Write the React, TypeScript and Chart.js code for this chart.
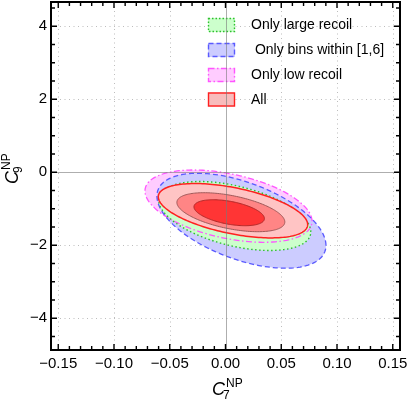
import React, { useEffect, useRef } from 'react';
import { Chart, registerables } from 'chart.js';

Chart.register(...registerables);

// ---- axis data ----
const xTicks = [-0.15, -0.1, -0.05, 0, 0.05, 0.1, 0.15];
const xTickLabels = ['−0.15', '−0.10', '−0.05', '0.00', '0.05', '0.10', '0.15'];
const yTicks = [-4, -2, 0, 2, 4];
const yTickLabels = ['−4', '−2', '0', '2', '4'];
const xRange = [-0.1565, 0.1565];
const yRange = [-4.871, 4.663];
const xMinorStep = 0.01;
const yMinorStep = 0.5;

// ---- legend ----
const legendLabels = ['Only large recoil', ' Only bins within [1,6]', 'Only low recoil', 'All'];

// ---- confidence contours: [centre x, centre y, half-width x, half-height y, correlation] ----
const lowRecoil = [0.0027, -0.93, 0.0749, 0.99, -0.42];
const binsWithin16 = [0.0143, -1.33, 0.0758, 1.3, -0.52];
const largeRecoil = [0.0083, -1.2, 0.0682, 0.945, -0.46];
const allOuter = [0.0067, -1.055, 0.067, 0.745, -0.51];
const allMid = [0.0048, -1.096, 0.0484, 0.534, -0.5];
const allInner = [0.0033, -1.11, 0.0316, 0.356, -0.45];

function contour(p: number[], n = 180) {
  const [cx, cy, sx, sy, rho] = p;
  const phi = Math.acos(rho);
  const pts: { x: number; y: number }[] = [];
  for (let i = 0; i <= n; i++) {
    const t = (2 * Math.PI * i) / n;
    pts.push({ x: cx + sx * Math.cos(t), y: cy + sy * Math.cos(t - phi) });
  }
  return pts;
}

const styles = [
  { params: lowRecoil, border: '#ff55ff', dash: [6, 2.5, 1.5, 2.5], fill: '#ffccff', width: 1.3, order: 6, late: false },
  { params: binsWithin16, border: '#5a5aff', dash: [5, 3], fill: '#ccccff', width: 1.3, order: 5, late: false },
  { params: largeRecoil, border: '#2fbf2f', dash: [1.5, 2.5], fill: '#ccffcc', width: 1.4, order: 4, late: false },
  { params: allOuter, border: '#ff2020', dash: [1000, 0], fill: '#ffc4c4', width: 1.5, order: 3, late: true },
  { params: allMid, border: '#a05858', dash: [1000, 0], fill: '#ff8585', width: 1, order: 2, late: true },
  { params: allInner, border: '#b02828', dash: [1000, 0], fill: '#ff3535', width: 1, order: 1, late: true },
];

const legendStyles = [
  { fill: '#ccffcc', border: '#2fbf2f', dash: [1.5, 2] },
  { fill: '#ccccff', border: '#5a5aff', dash: [5, 3] },
  { fill: '#ffccff', border: '#ff55ff', dash: [6, 2.5, 1.5, 2.5] },
  { fill: '#f8bcbc', border: '#ff2020', dash: [] as number[] },
];

const FONT = '"Liberation Sans", Arial, Helvetica, sans-serif';

function fillMeta(chart: any, i: number) {
  const ds = chart.data.datasets[i];
  const meta = chart.getDatasetMeta(i);
  const ctx = chart.ctx;
  ctx.save();
  ctx.beginPath();
  meta.data.forEach((pt: any, k: number) => (k ? ctx.lineTo(pt.x, pt.y) : ctx.moveTo(pt.x, pt.y)));
  ctx.closePath();
  ctx.fillStyle = ds.fillColor;
  ctx.fill();
  ctx.restore();
}

const framePlugin = {
  id: 'framePlugin',
  beforeDatasetsDraw(chart: any) {
    const { ctx, chartArea: a, scales } = chart;
    const x = scales.x, y = scales.y;
    ctx.save();
    ctx.beginPath();
    ctx.rect(a.left, a.top, a.right - a.left, a.bottom - a.top);
    ctx.clip();
    ctx.strokeStyle = '#bdbdbd';
    ctx.lineWidth = 1;
    ctx.setLineDash([1, 3.5]);
    ctx.beginPath();
    xTicks.forEach((v) => {
      if (v === 0) return;
      const px = Math.round(x.getPixelForValue(v)) + 0.5;
      ctx.moveTo(px, a.top);
      ctx.lineTo(px, a.bottom);
    });
    yTicks.forEach((v) => {
      if (v === 0) return;
      const py = Math.round(y.getPixelForValue(v)) + 0.5;
      ctx.moveTo(a.left, py);
      ctx.lineTo(a.right, py);
    });
    ctx.stroke();
    ctx.restore();
    const idx = chart.data.datasets
      .map((d: any, i: number) => ({ d, i }))
      .filter((o: any) => !o.d.late)
      .sort((p: any, q: any) => q.d.order - p.d.order);
    idx.forEach((o: any) => fillMeta(chart, o.i));
  },
  beforeDatasetDraw(chart: any, args: any) {
    const ds = chart.data.datasets[args.index];
    if (ds.late) fillMeta(chart, args.index);
  },
  afterDatasetsDraw(chart: any) {
    const { ctx, chartArea: a, scales } = chart;
    const x = scales.x, y = scales.y;
    ctx.save();

    // legend
    const bx = 208, bw = 27, bh = 14;
    const tops = [18, 43, 68, 92.5];
    ctx.font = `14px ${FONT}`;
    ctx.textBaseline = 'middle';
    ctx.textAlign = 'left';
    legendLabels.forEach((lab, i) => {
      const st = legendStyles[i];
      ctx.fillStyle = st.fill;
      ctx.fillRect(bx, tops[i], bw, bh);
      ctx.strokeStyle = st.border;
      ctx.lineWidth = 1.4;
      ctx.setLineDash(st.dash);
      ctx.strokeRect(bx + 0.5, tops[i] + 0.5, bw - 1, bh - 1);
      ctx.setLineDash([]);
      ctx.fillStyle = '#000';
      ctx.fillText(lab, 251, tops[i] + bh / 2 + 0.5);
    });

    // zero axes
    ctx.strokeStyle = 'rgba(120,120,120,0.6)';
    ctx.lineWidth = 1;
    ctx.beginPath();
    const x0 = Math.round(x.getPixelForValue(0)) + 0.5;
    const y0 = Math.round(y.getPixelForValue(0)) + 0.5;
    ctx.moveTo(x0, a.top);
    ctx.lineTo(x0, a.bottom);
    ctx.moveTo(a.left, y0);
    ctx.lineTo(a.right, y0);
    ctx.stroke();

    // frame
    ctx.strokeStyle = '#000';
    ctx.lineWidth = 2;
    ctx.strokeRect(a.left, a.top, a.right - a.left, a.bottom - a.top);

    // ticks
    ctx.lineWidth = 1.4;
    ctx.beginPath();
    const near = (v: number, arr: number[]) => arr.some((t) => Math.abs(t - v) < 1e-9);
    for (let i = Math.ceil(xRange[0] / xMinorStep); i <= Math.floor(xRange[1] / xMinorStep); i++) {
      const v = i * xMinorStep;
      const len = near(v, xTicks) ? 6 : 4;
      const px = x.getPixelForValue(v);
      ctx.moveTo(px, a.bottom);
      ctx.lineTo(px, a.bottom - len);
      ctx.moveTo(px, a.top);
      ctx.lineTo(px, a.top + len);
    }
    for (let i = Math.ceil(yRange[0] / yMinorStep); i <= Math.floor(yRange[1] / yMinorStep); i++) {
      const v = i * yMinorStep;
      const len = near(v, yTicks) ? 6 : 4;
      const py = y.getPixelForValue(v);
      ctx.moveTo(a.left, py);
      ctx.lineTo(a.left + len, py);
      ctx.moveTo(a.right, py);
      ctx.lineTo(a.right - len, py);
    }
    ctx.stroke();

    // axis titles
    ctx.fillStyle = '#000';
    ctx.textBaseline = 'alphabetic';
    ctx.textAlign = 'left';
    // x title
    ctx.font = `italic 18px ${FONT}`;
    const cw = ctx.measureText('C').width;
    const xt = 212, yb = 395;
    ctx.fillText('C', xt, yb);
    ctx.font = `12px ${FONT}`;
    ctx.fillText('NP', xt + cw + 1, yb - 8);
    ctx.fillText('7', xt + cw - 2, yb + 3.5);
    // y title (rotated)
    ctx.save();
    ctx.translate(18, 184);
    ctx.rotate(-Math.PI / 2);
    ctx.font = `italic 18px ${FONT}`;
    ctx.fillText('C', 0, 0);
    ctx.font = `12px ${FONT}`;
    ctx.fillText('NP', cw + 1, -8);
    ctx.fillText('9', cw - 2, 3.5);
    ctx.restore();

    ctx.restore();
  },
};

export default function App() {
  const ref = useRef<HTMLCanvasElement | null>(null);
  useEffect(() => {
    if (!ref.current) return;
    const datasets = styles.map((s) => ({
      data: contour(s.params),
      borderColor: s.border,
      borderDash: s.dash,
      borderWidth: s.width,
      backgroundColor: s.fill,
      fillColor: s.fill,
      late: s.late,
      order: s.order,
      fill: false,
      tension: 0,
      pointRadius: 0,
      pointHoverRadius: 0,
      showLine: true,
    }));
    const chart = new Chart(ref.current, {
      type: 'line',
      data: { datasets } as any,
      options: {
        animation: false,
        responsive: false,
        devicePixelRatio: 1,
        events: [],
        layout: { padding: { left: 0, right: 9, top: 2, bottom: 0 } },
        plugins: { legend: { display: false }, tooltip: { enabled: false }, title: { display: false } },
        scales: {
          x: {
            type: 'linear',
            min: xRange[0],
            max: xRange[1],
            grid: { display: false, drawTicks: false },
            border: { display: false },
            afterBuildTicks: (s: any) => {
              s.ticks = xTicks.map((v) => ({ value: v }));
            },
            afterFit: (s: any) => {
              s.height = 49;
              s.paddingLeft = 0;
              s.paddingRight = 0;
            },
            ticks: {
              autoSkip: false,
              maxRotation: 0,
              padding: 5,
              color: '#000',
              font: { family: FONT, size: 15 },
              callback: (_v: any, i: number) => xTickLabels[i],
            },
          },
          y: {
            type: 'linear',
            min: yRange[0],
            max: yRange[1],
            grid: { display: false, drawTicks: false },
            border: { display: false },
            afterBuildTicks: (s: any) => {
              s.ticks = yTicks.map((v) => ({ value: v }));
            },
            afterFit: (s: any) => {
              s.width = 51;
              s.paddingTop = 0;
              s.paddingBottom = 0;
            },
            ticks: {
              autoSkip: false,
              padding: 4,
              color: '#000',
              font: { family: FONT, size: 15 },
              callback: (_v: any, i: number) => yTickLabels[i],
            },
          },
        },
      } as any,
      plugins: [framePlugin],
    });
    return () => chart.destroy();
  }, []);
  return (
    <div style={{ position: 'absolute', left: 0, top: 0, width: 409, height: 399, background: '#fff' }}>
      <canvas ref={ref} width={409} height={399} style={{ width: 409, height: 399, display: 'block' }} />
    </div>
  );
}
